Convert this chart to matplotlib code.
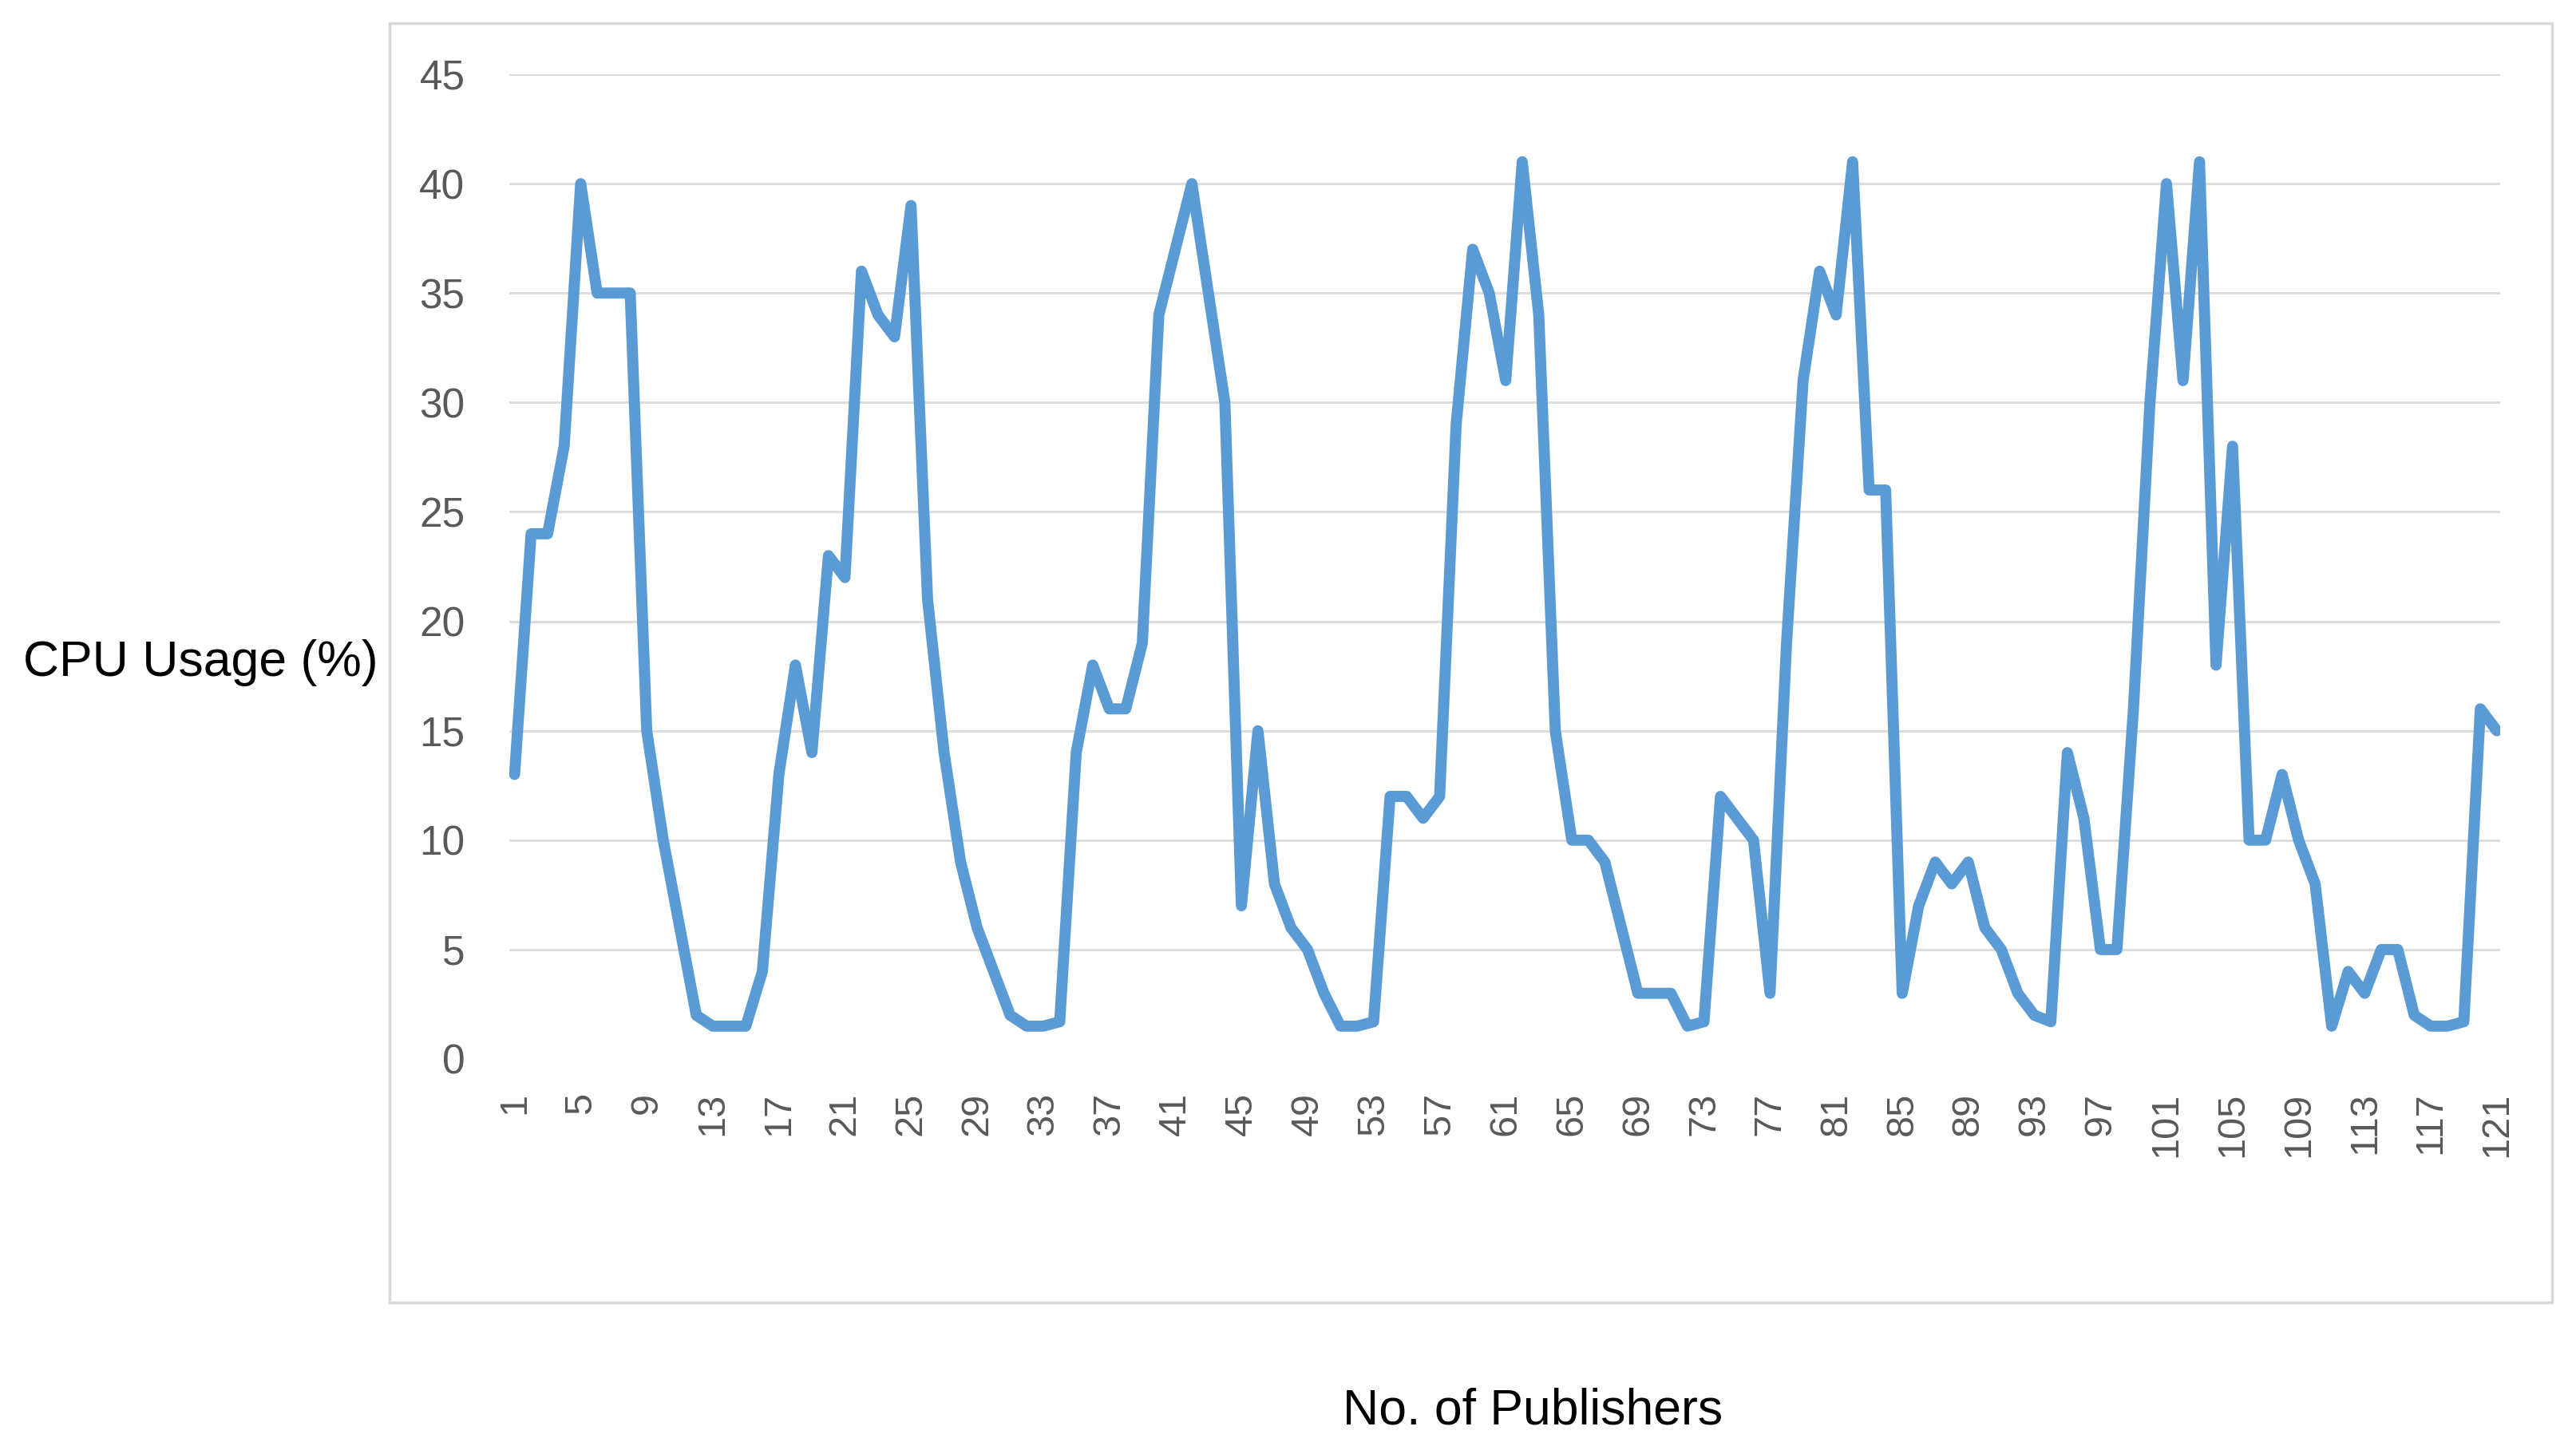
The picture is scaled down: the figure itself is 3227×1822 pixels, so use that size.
import numpy as np
import matplotlib
matplotlib.use("Agg")
import matplotlib.pyplot as plt
import matplotlib.patches as pat

# CPU usage per number of publishers
publishers = np.arange(1, 122)
cpu_usage = [
    13, 24, 24, 28, 40, 35, 35, 35, 15, 10,
    6, 2, 1.5, 1.5, 1.5, 4, 13, 18, 14, 23,
    22, 36, 34, 33, 39, 21, 14, 9, 6, 4,
    2, 1.5, 1.5, 1.7, 14, 18, 16, 16, 19, 34,
    37, 40, 35, 30, 7, 15, 8, 6, 5, 3,
    1.5, 1.5, 1.7, 12, 12, 11, 12, 29, 37, 35,
    31, 41, 34, 15, 10, 10, 9, 6, 3, 3,
    3, 1.5, 1.7, 12, 11, 10, 3, 19, 31, 36,
    34, 41, 26, 26, 3, 7, 9, 8, 9, 6,
    5, 3, 2, 1.7, 14, 11, 5, 5, 16, 30,
    40, 31, 41, 18, 28, 10, 10, 13, 10, 8,
    1.5, 4, 3, 5, 5, 2, 1.5, 1.5, 1.7, 16,
    15,
]
x_ticks = np.arange(1, 122, 4)
y_ticks = np.arange(0, 46, 5)

W, H = 3227, 1822
fig = plt.figure(figsize=(W / 100, H / 100), dpi=100)

# light chart-area border
border = pat.Rectangle((488 / W, 1 - 1632 / H), (3197 - 488) / W, (1632 - 29) / H,
                       transform=fig.transFigure, fill=False, ec='#D9D9D9', lw=2.5)
fig.patches.append(border)

ax = fig.add_axes([638 / W, 1 - 1327 / H, (3132 - 638) / W, (1327 - 93) / H])
for y in y_ticks[1:]:
    ax.axhline(y, color='#DDDDDD', lw=2.2, zorder=1)
ax.plot(publishers, cpu_usage, color='#5B9BD5', lw=10,
        solid_joinstyle='round', solid_capstyle='round', zorder=3)

ax.set_xlim(0.68, 121.2)
ax.set_ylim(0, 45)
for s in ax.spines.values():
    s.set_visible(False)
ax.set_xticks(x_ticks)
ax.set_xticklabels([str(v) for v in x_ticks], rotation=90, va='top', ha='center',
                   fontsize=35, color='#595959', family=['Liberation Sans'])
ax.set_yticks(y_ticks)
ax.set_yticklabels([str(v) for v in y_ticks], fontsize=37, color='#595959',
                   family=['Liberation Sans Narrow', 'Liberation Sans'])
ax.tick_params(axis='x', length=0, pad=30)
ax.tick_params(axis='y', length=0, pad=40)

fig.text(29 / W, 1 - 831 / H, 'CPU Usage (%)', fontsize=45, family='Liberation Sans',
         ha='left', va='center', color='black')
fig.text(1920 / W, 1 - 1768 / H, 'No. of Publishers', fontsize=45, family='Liberation Sans',
         ha='center', va='center', color='black')

plt.savefig('out.png', dpi=100)
